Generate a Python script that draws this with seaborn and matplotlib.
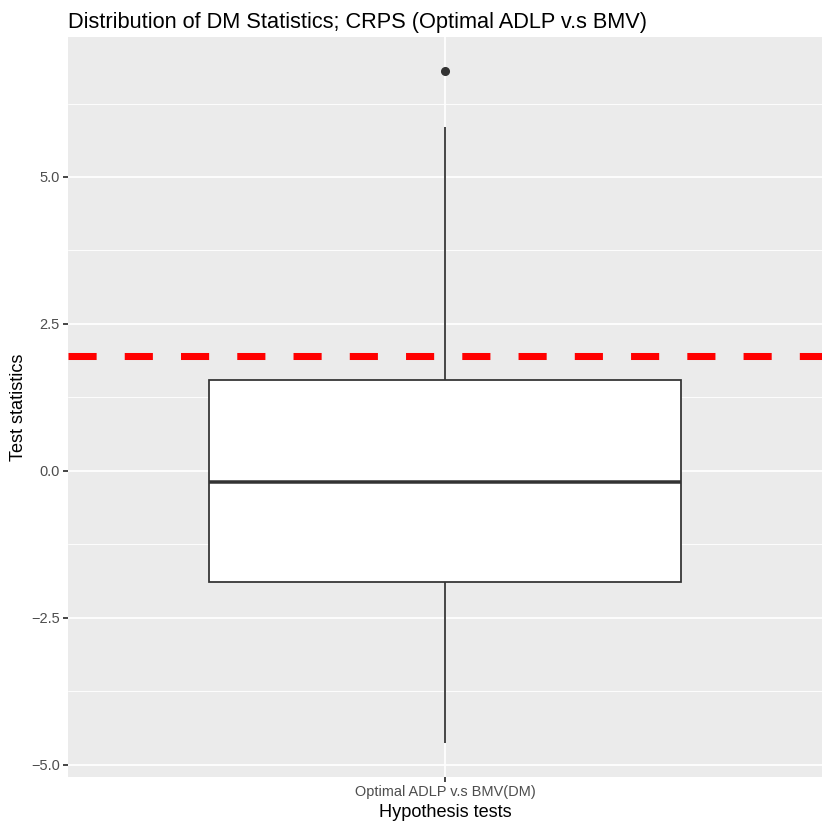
import numpy as np
import pandas as pd
import seaborn as sns
import matplotlib.pyplot as plt

# values
category = ["Optimal ADLP v.s BMV(DM)"]
dm_stats = [-4.64, -3.10, -1.89, -1.05, -0.20, 0.65, 1.55, 5.85, 6.81]
crit_value = 1.96
y_ticks = [-5.0, -2.5, 0.0, 2.5, 5.0]
y_minor = [-3.75, -1.25, 1.25, 3.75, 6.25]

df = pd.DataFrame({"test": category * len(dm_stats), "stat": dm_stats})

sns.set_style("white")
plt.rcParams["font.family"] = ["Liberation Sans", "DejaVu Sans"]

fig = plt.figure(figsize=(7, 7), dpi=830 / 7)
ax = fig.add_axes([68 / 830, 53 / 830, 754 / 830, 740 / 830])
ax.set_facecolor("#EBEBEB")

# grid first, like ggplot
for y in y_ticks:
    ax.axhline(y, color="white", lw=1.07, zorder=0)
for y in y_minor:
    ax.axhline(y, color="white", lw=0.53, zorder=0)
ax.axvline(0, color="white", lw=1.07, zorder=0)

sns.boxplot(data=df, x="test", y="stat", ax=ax, width=0.75, color="white",
            saturation=1, linecolor="#333333", linewidth=1.07, showcaps=False,
            whis=1.5, fliersize=4.5,
            medianprops={"linewidth": 2.13, "color": "#333333"},
            flierprops={"marker": "o", "markerfacecolor": "#333333",
                        "markeredgecolor": "#333333"},
            zorder=2)

ax.axhline(crit_value, color="red", lw=4.27, ls=(0, (4, 4)), zorder=3)

lo, hi = min(dm_stats), max(dm_stats)
pad = (hi - lo) * 0.05
ax.set_ylim(lo - pad, hi + pad)
ax.set_xlim(-0.6, 0.6)

ax.set_yticks(y_ticks)
ax.set_yticklabels([f"{v:.1f}".replace("-", "\u2212") for v in y_ticks])
ax.tick_params(axis="both", colors="#333333", length=2.75, width=1.07,
               labelsize=8.8, labelcolor="#4D4D4D", pad=2.2, left=True,
               bottom=True)
for s in ax.spines.values():
    s.set_visible(False)

ax.set_xlabel("Hypothesis tests", fontsize=11, color="black", labelpad=2.75)
ax.set_ylabel("Test statistics", fontsize=11, color="black", labelpad=2.75)
ax.set_title("Distribution of DM Statistics; CRPS (Optimal ADLP v.s BMV)",
             fontsize=13.2, loc="left", pad=5.5, color="black")

fig.savefig("out.png", dpi=830 / 7, facecolor="white")
